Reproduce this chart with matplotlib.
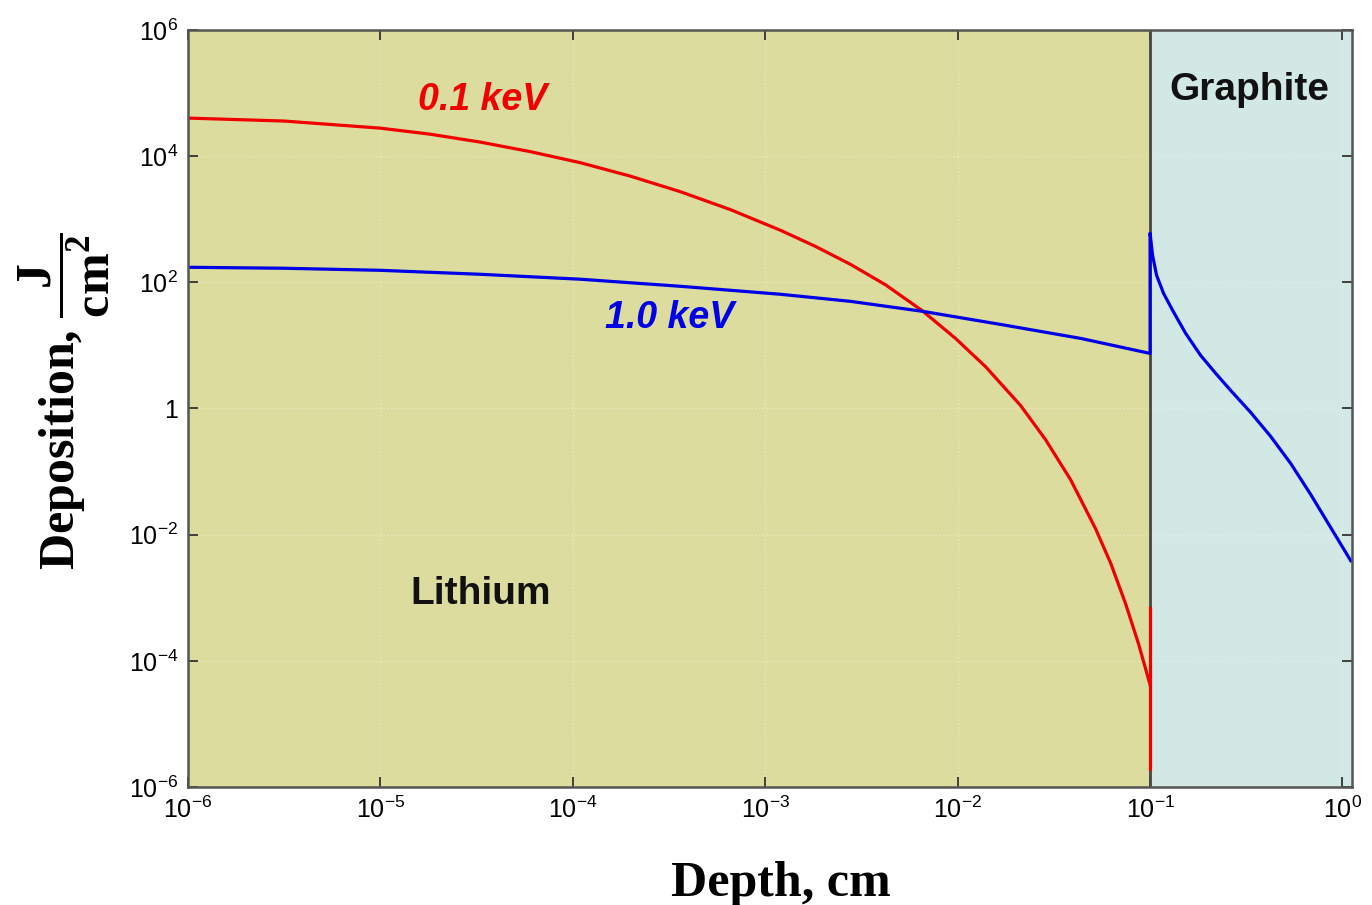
import matplotlib.pyplot as plt
import numpy as np

# values (depth in cm, deposition in J/cm^2)
red_depth = [1e-6, 3.155e-6, 9.95e-6, 1.81e-5, 3.30e-5, 6.0e-5, 1.09e-4, 1.99e-4,
             3.61e-4, 6.59e-4, 1.20e-3, 1.82e-3, 2.77e-3, 4.22e-3, 6.56e-3, 9.75e-3,
             1.40e-2, 2.12e-2, 2.86e-2, 3.86e-2, 5.21e-2, 6.24e-2, 7.46e-2, 8.71e-2, 1e-1]
red_dep = [4.01e4, 3.60e4, 2.78e4, 2.23e4, 1.67e4, 1.18e4, 7.89e3, 4.82e3,
           2.74e3, 1.42e3, 668, 372, 193, 91.2, 35.3, 12.9,
           4.56, 1.12, 0.322, 7.46e-2, 1.24e-2, 3.53e-3, 8.04e-4, 1.86e-4, 4.16e-5]
red_wall_depth = [1e-1, 1e-1]
red_wall_dep = [6.9e-4, 1.95e-6]

blue_depth = [1e-6, 3.155e-6, 9.95e-6, 3.30e-5, 1.09e-4, 3.61e-4, 1.20e-3, 2.77e-3,
              6.56e-3, 1.67e-2, 4.36e-2, 1e-1,
              1e-1, 0.1030, 0.1081, 0.1175, 0.1309, 0.1531, 0.1832, 0.2193,
              0.2624, 0.3334, 0.4236, 0.5383, 0.6839, 0.8690, 1.104]
blue_dep = [173, 167, 155, 134, 112, 86.5, 64.6, 49.9,
            34.7, 21.5, 12.9, 7.46,
            600, 269, 129, 66.8, 36.0, 15.5, 6.93, 3.60,
            1.93, 0.865, 0.360, 0.134, 0.0432, 0.0129, 0.00386]

interface = 0.1
x_lim = (1e-6, 1.12)
y_lim = (1e-6, 1e6)

xticks = [1e-6, 1e-5, 1e-4, 1e-3, 1e-2, 1e-1, 1e0]
xtick_labels = [r'$\mathregular{10^{-6}}$', r'$\mathregular{10^{-5}}$', r'$\mathregular{10^{-4}}$',
                r'$\mathregular{10^{-3}}$', r'$\mathregular{10^{-2}}$', r'$\mathregular{10^{-1}}$',
                r'$\mathregular{10^{0}}$']
yticks = [1e-6, 1e-4, 1e-2, 1, 1e2, 1e4, 1e6]
ytick_labels = [r'$\mathregular{10^{-6}}$', r'$\mathregular{10^{-4}}$', r'$\mathregular{10^{-2}}$',
                '1', r'$\mathregular{10^{2}}$', r'$\mathregular{10^{4}}$', r'$\mathregular{10^{6}}$']

plt.rcParams['font.family'] = ['Liberation Sans', 'DejaVu Sans']
plt.rcParams['mathtext.fontset'] = 'custom'
plt.rcParams['mathtext.rm'] = 'Liberation Serif:bold'
plt.rcParams['mathtext.bf'] = 'Liberation Serif:bold'

fig = plt.figure(figsize=(13.72, 9.05), dpi=100)
ax = fig.add_axes([0.137, 0.1304, 0.8484, 0.8365])
ax.set_xscale('log')
ax.set_yscale('log')
ax.set_xlim(*x_lim)
ax.set_ylim(*y_lim)

ax.axvspan(x_lim[0], interface, color='#dcdc9e', zorder=0)
ax.axvspan(interface, x_lim[1], color='#d1e8e4', zorder=0)
ax.grid(True, which='major', color='white', alpha=0.35, lw=1, ls=':')
ax.axvline(interface, color='#454545', lw=2, zorder=1.8)

ax.plot(red_depth, red_dep, color='#f00000', lw=2.3)
ax.plot(red_wall_depth, red_wall_dep, color='#f00000', lw=2.3)
ax.plot(blue_depth, blue_dep, color='#0000e8', lw=2.3)

ax.text(3.4e-5, 7.8e4, '0.1 keV', color='#f00000', fontsize=27, fontweight='bold',
        fontstyle='italic', ha='center', va='center')
ax.text(3.2e-4, 27, '1.0 keV', color='#0000e8', fontsize=27, fontweight='bold',
        fontstyle='italic', ha='center', va='center')
ax.text(3.3e-5, 1.15e-3, 'Lithium', color='#111111', fontsize=28, fontweight='bold',
        ha='center', va='center')
ax.text(0.33, 1.12e5, 'Graphite', color='#111111', fontsize=28, fontweight='bold',
        ha='center', va='center')

ax.set_xticks(xticks)
ax.set_xticklabels(xtick_labels)
ax.set_yticks(yticks)
ax.set_yticklabels(ytick_labels)
ax.minorticks_off()
ax.tick_params(which='major', direction='in', length=7, width=1.3, top=True, right=True,
               labelsize=18, pad=7, color='#333333')
for s in ax.spines.values():
    s.set_color('#555555')
    s.set_linewidth(1.8)

ax.set_xlabel('Depth, cm', family='Liberation Serif', fontweight='bold', fontsize=36, va='center')
ax.xaxis.set_label_coords(0.509, -0.128)
ax.set_ylabel(r'Deposition, $\dfrac{\mathbf{J}}{\mathbf{cm}^{2}}$', family='Liberation Serif',
              fontweight='bold', fontsize=36, va='center')
ax.yaxis.set_label_coords(-0.106, 0.51)

fig.savefig('out.png', dpi=100)
